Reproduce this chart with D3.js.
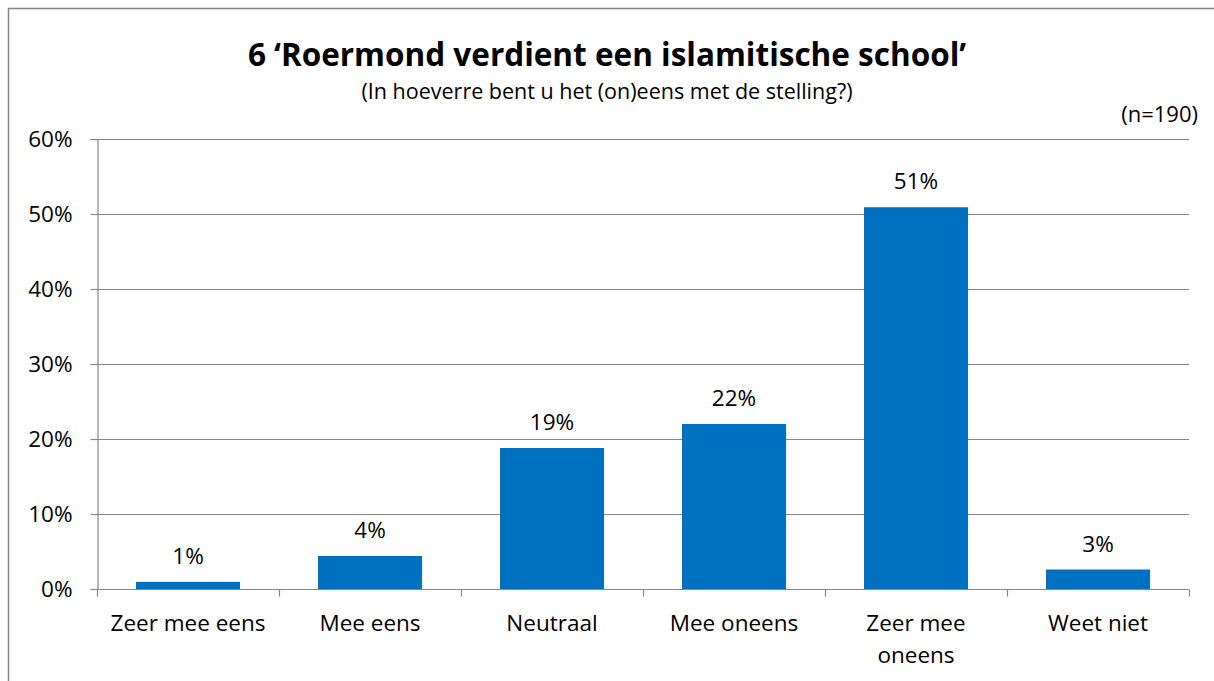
<!DOCTYPE html>
<html>
<head>
<meta charset="utf-8">
<script src="https://cdn.jsdelivr.net/npm/d3@7"></script>
<style>
  html, body { margin: 0; padding: 0; background: #fff; }
  svg { display: block; font-family: "Open Sans", "Noto Sans", sans-serif; }
</style>
</head>
<body>
<div id="chart"></div>
<script>
const width = 1214,
    height = 681,
    margin = { top: 139, bottom: 92, left: 97, right: 25 };

// data
const categories = ["Zeer mee eens", "Mee eens", "Neutraal", "Mee oneens", "Zeer mee oneens", "Weet niet"];
const values = [0.95, 4.4, 18.8, 22.0, 50.9, 2.6];
const labels = ["1%", "4%", "19%", "22%", "51%", "3%"];
const yTicks = [0, 10, 20, 30, 40, 50, 60];

const title = "6 \u2018Roermond verdient een islamitische school\u2019";
const subtitle = "(In hoeverre bent u het (on)eens met de stelling?)";
const nLabel = "(n=190)";

const svg = d3.select("#chart")
    .append("svg")
    .attr("width", width)
    .attr("height", height);

// outer frame (runs off right and bottom)
svg.append("rect")
    .attr("x", 8.5)
    .attr("y", 8.5)
    .attr("width", 1400)
    .attr("height", 1000)
    .attr("fill", "none")
    .attr("stroke", "#868686")
    .attr("stroke-width", 1.5);

const x = d3.scaleBand()
    .domain(categories)
    .range([margin.left, width - margin.right])
    .paddingInner(0.4286)
    .paddingOuter(0.2143);

const xEdge = d3.scaleLinear()
    .domain([0, categories.length])
    .range([margin.left, width - margin.right]);

const y = d3.scaleLinear()
    .domain([0, 60])
    .range([height - margin.bottom, margin.top]);

// gridlines
svg.append("g")
    .selectAll("line")
    .data(yTicks.filter(d => d > 0))
    .join("line")
    .attr("x1", margin.left)
    .attr("x2", xEdge(categories.length))
    .attr("y1", d => Math.round(y(d)) + 0.5)
    .attr("y2", d => Math.round(y(d)) + 0.5)
    .attr("stroke", "#868686")
    .attr("stroke-width", 1.2);

// y axis
const yAxis = d3.axisLeft(y)
    .tickValues(yTicks)
    .tickFormat(d => d + "%")
    .tickSize(7)
    .tickPadding(18);

svg.append("g")
    .attr("transform", `translate(${margin.left + 0.5},0)`)
    .call(yAxis)
    .call(g => g.select(".domain").attr("stroke", "#868686").attr("stroke-width", 1.2))
    .call(g => g.selectAll(".tick line").attr("stroke", "#868686").attr("stroke-width", 1.2))
    .call(g => g.selectAll(".tick text")
        .attr("fill", "#000")
        .style("font-size", "22.5px")
        .style("font-family", "'Open Sans', sans-serif"));

// bars
svg.append("g")
    .selectAll("rect")
    .data(values)
    .join("rect")
    .attr("x", (d, i) => x(categories[i]))
    .attr("y", d => y(d))
    .attr("width", x.bandwidth())
    .attr("height", d => y(0) - y(d))
    .attr("fill", "#0070C0");

// value labels
svg.append("g")
    .selectAll("text")
    .data(values)
    .join("text")
    .attr("x", (d, i) => x(categories[i]) + x.bandwidth() / 2)
    .attr("y", d => y(d) - 18)
    .attr("text-anchor", "middle")
    .style("font-size", "22.5px")
    .text((d, i) => labels[i]);

// x axis line and boundary ticks
const baseY = Math.round(y(0)) + 0.5;
svg.append("line")
    .attr("x1", margin.left)
    .attr("x2", xEdge(categories.length))
    .attr("y1", baseY)
    .attr("y2", baseY)
    .attr("stroke", "#868686")
    .attr("stroke-width", 1.2);

svg.append("g")
    .selectAll("line")
    .data(d3.range(categories.length + 1))
    .join("line")
    .attr("x1", d => Math.round(xEdge(d)) + 0.5)
    .attr("x2", d => Math.round(xEdge(d)) + 0.5)
    .attr("y1", baseY)
    .attr("y2", baseY + 7)
    .attr("stroke", "#868686")
    .attr("stroke-width", 1.2);

// category labels (wrap the long one like the original)
const catLines = d => d === "Zeer mee oneens" ? ["Zeer mee", "oneens"] : [d];
svg.append("g")
    .selectAll("text")
    .data(categories)
    .join("text")
    .attr("x", d => x(d) + x.bandwidth() / 2)
    .attr("y", baseY + 41)
    .attr("text-anchor", "middle")
    .style("font-size", "22.5px")
    .selectAll("tspan")
    .data(d => catLines(d).map(l => ({ l, cx: x(d) + x.bandwidth() / 2 })))
    .join("tspan")
    .attr("x", d => d.cx)
    .attr("dy", (d, i) => i === 0 ? 0 : 32)
    .text(d => d.l);

// titles
svg.append("text")
    .attr("x", 607)
    .attr("y", 66)
    .attr("text-anchor", "middle")
    .style("font-size", "31.5px")
    .style("font-weight", "bold")
    .text(title);

svg.append("text")
    .attr("x", 607)
    .attr("y", 99)
    .attr("text-anchor", "middle")
    .style("font-size", "21.5px")
    .text(subtitle);

svg.append("text")
    .attr("x", 1198)
    .attr("y", 122)
    .attr("text-anchor", "end")
    .style("font-size", "22px")
    .text(nLabel);
</script>
</body>
</html>
